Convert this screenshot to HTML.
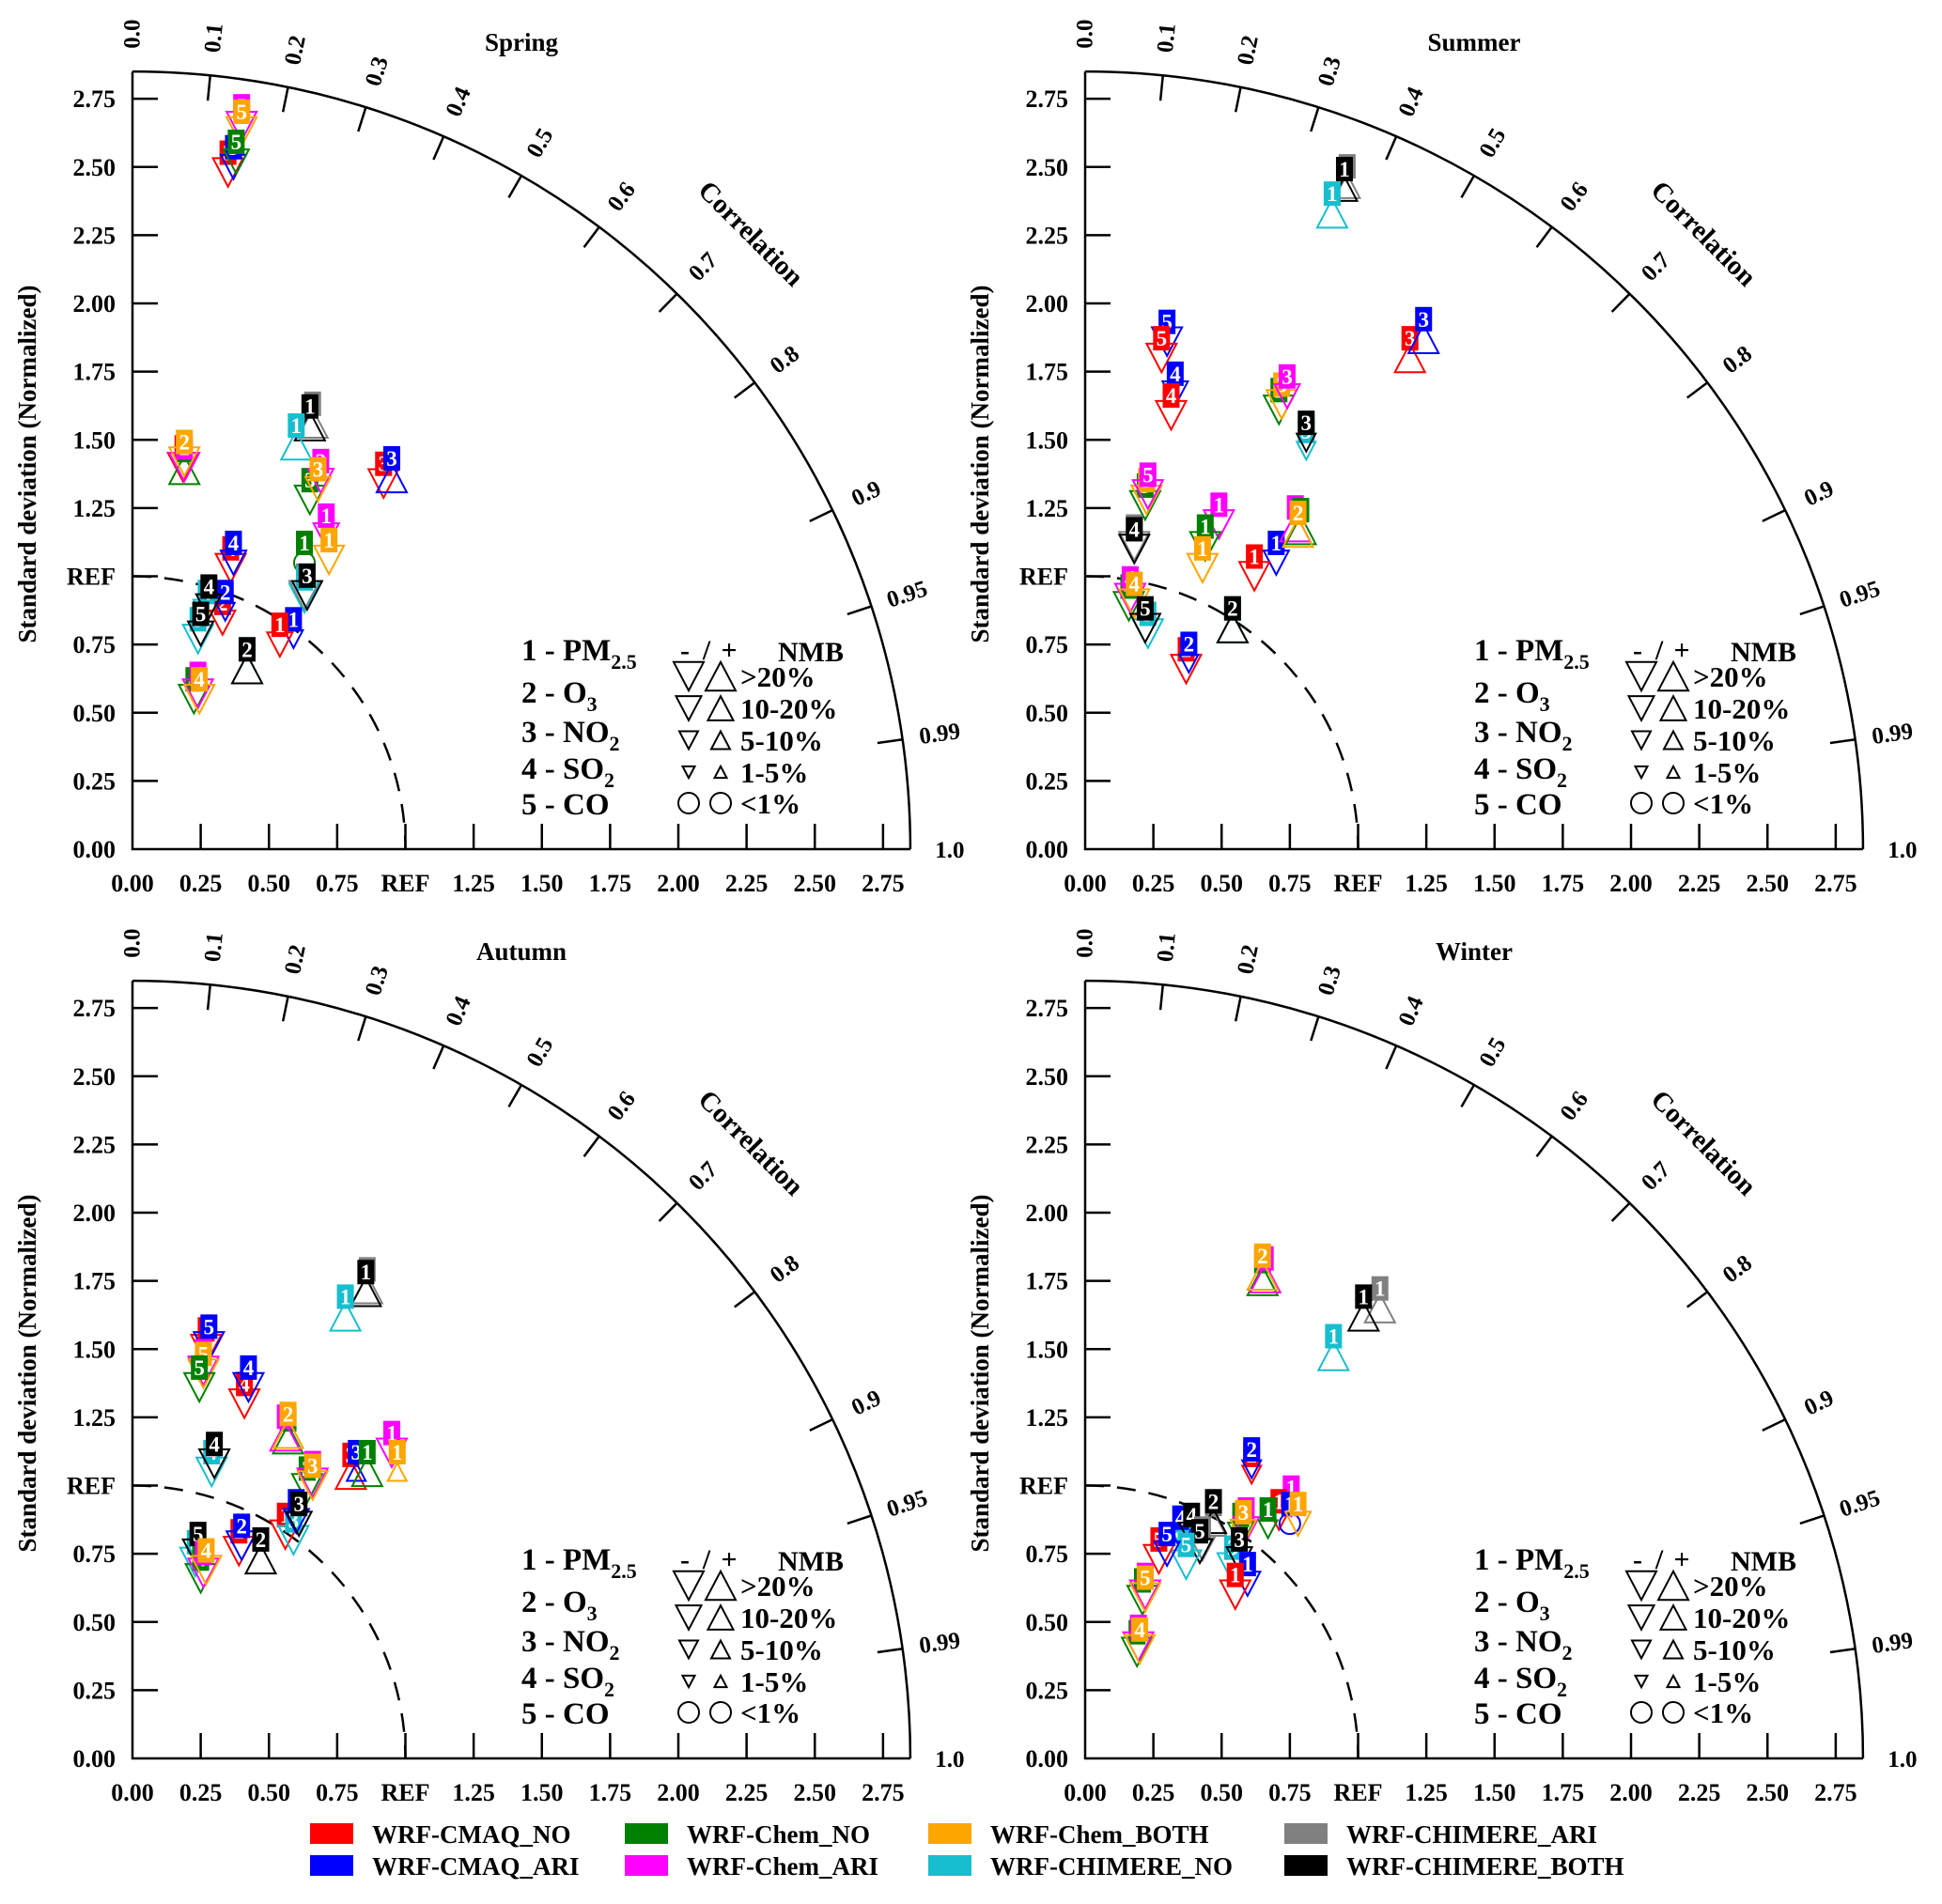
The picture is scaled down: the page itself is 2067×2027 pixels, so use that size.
<!DOCTYPE html>
<html><head><meta charset="utf-8"><style>
html,body{margin:0;padding:0;background:#fff}
svg{display:block;font-family:"Liberation Serif",serif;font-weight:bold}
</style></head><body>
<svg id="chart" width="2067" height="2027" viewBox="0 0 2067 2027" xmlns="http://www.w3.org/2000/svg"></svg>
<script>
// models: 0 CMAQ_NO,1 CMAQ_ARI,2 Chem_NO,3 Chem_ARI,4 Chem_BOTH,5 CHIMERE_NO,6 CHIMERE_ARI,7 CHIMERE_BOTH
const modelNames = ["WRF-CMAQ_NO","WRF-CMAQ_ARI","WRF-Chem_NO","WRF-Chem_ARI","WRF-Chem_BOTH","WRF-CHIMERE_NO","WRF-CHIMERE_ARI","WRF-CHIMERE_BOTH"];
const modelColors = ["#ff0000","#0000ff","#008000","#ff00ff","#ffa500","#17becf","#808080","#000000"];
const corrTicks = [0.0,0.1,0.2,0.3,0.4,0.5,0.6,0.7,0.8,0.9,0.95,0.99];
const corrLabels = ["0.0","0.1","0.2","0.3","0.4","0.5","0.6","0.7","0.8","0.9","0.95","0.99"];
const stdTicks = [0,0.25,0.5,0.75,1.0,1.25,1.5,1.75,2.0,2.25,2.5,2.75];
const stdLabels = ["0.00","0.25","0.50","0.75","REF","1.25","1.50","1.75","2.00","2.25","2.50","2.75"];
// point: [model, variable, stdX, stdY, direction(-1 down / 1 up), sizeClass 5:>20%,4:10-20,3:5-10,2:1-5,1:<1]
const springPts = [
[3,5,0.40,2.65,-1,5],[4,5,0.40,2.63,-1,5],[0,5,0.35,2.48,-1,5],[1,5,0.37,2.50,-1,4],[2,5,0.38,2.52,-1,4],
[0,2,0.185,1.40,-1,5],[2,2,0.19,1.39,1,5],[3,2,0.19,1.40,-1,5],[4,2,0.19,1.42,-1,5],
[6,1,0.66,1.56,1,5],[7,1,0.65,1.55,1,5],[5,1,0.60,1.48,1,5],
[2,3,0.65,1.28,-1,5],[3,3,0.69,1.35,-1,4],[4,3,0.68,1.32,-1,4],
[0,3,0.92,1.34,-1,5],[1,3,0.95,1.36,1,5],
[3,1,0.71,1.15,-1,4],[4,1,0.72,1.06,-1,5],[2,1,0.63,1.05,1,1],
[6,3,0.63,0.93,-1,5],[5,3,0.63,0.92,-1,5],[7,3,0.64,0.93,-1,5],
[1,1,0.59,0.77,-1,3],[0,1,0.54,0.75,-1,4],
[5,2,0.42,0.66,1,5],[7,2,0.42,0.66,1,5],
[0,4,0.36,1.03,-1,5],[1,4,0.37,1.05,-1,4],
[0,2,0.33,0.83,-1,4],[1,2,0.34,0.87,-1,3],
[5,4,0.27,0.87,-1,4],[7,4,0.28,0.89,-1,4],
[5,5,0.24,0.77,-1,5],[7,5,0.25,0.79,-1,4],
[2,4,0.225,0.55,-1,5],[3,4,0.24,0.57,-1,5],[4,4,0.245,0.55,-1,5]];
const summerPts = [
[6,1,0.96,2.43,1,4],[7,1,0.95,2.42,1,4],[5,1,0.905,2.33,1,5],
[0,3,1.19,1.80,1,5],[1,3,1.24,1.87,1,5],
[1,5,0.30,1.86,-1,5],[0,5,0.28,1.80,-1,5],
[1,4,0.33,1.67,-1,4],[0,4,0.315,1.59,-1,5],
[2,3,0.71,1.61,-1,5],[4,3,0.72,1.63,-1,5],[3,3,0.74,1.66,-1,4],
[5,3,0.81,1.46,-1,3],[7,3,0.81,1.49,-1,3],
[2,5,0.22,1.26,-1,5],[4,5,0.225,1.28,-1,5],[3,5,0.23,1.30,-1,5],
[6,4,0.18,1.11,-1,5],[7,4,0.18,1.10,-1,5],
[3,1,0.49,1.19,-1,5],[2,1,0.44,1.11,-1,5],[4,1,0.43,1.03,-1,5],
[1,1,0.70,1.05,-1,4],[0,1,0.62,1.00,-1,5],
[3,2,0.77,1.18,1,5],[2,2,0.79,1.17,1,5],[4,2,0.78,1.16,1,5],
[5,2,0.54,0.81,1,5],[7,2,0.54,0.81,1,5],
[2,4,0.16,0.89,-1,5],[3,4,0.165,0.92,-1,5],[4,4,0.18,0.90,-1,5],
[5,5,0.23,0.79,-1,5],[7,5,0.22,0.81,-1,5],
[0,2,0.37,0.66,-1,5],[1,2,0.38,0.68,-1,3]];
const autumnPts = [
[6,1,0.86,1.72,1,5],[7,1,0.855,1.71,1,5],[5,1,0.78,1.62,1,5],
[0,5,0.27,1.50,-1,5],[1,5,0.28,1.51,-1,5],[3,5,0.26,1.42,-1,5],[4,5,0.26,1.41,-1,5],[2,5,0.245,1.36,-1,5],
[0,4,0.41,1.30,-1,5],[1,4,0.425,1.36,-1,5],
[2,2,0.57,1.17,1,5],[3,2,0.56,1.18,1,5],[4,2,0.57,1.19,1,5],
[5,4,0.29,1.05,-1,5],[7,4,0.30,1.08,-1,5],
[2,3,0.64,0.99,-1,5],[3,3,0.66,1.01,-1,5],[4,3,0.66,1.00,-1,5],
[0,3,0.80,1.04,1,5],[1,3,0.82,1.05,1,3],[2,1,0.86,1.05,1,5],
[3,1,0.95,1.12,-1,5],[4,1,0.97,1.05,1,3],
[0,1,0.56,0.82,-1,5],[5,3,0.59,0.80,-1,5],[1,1,0.60,0.87,-1,4],[7,3,0.61,0.86,-1,4],
[0,2,0.39,0.76,-1,5],[1,2,0.40,0.78,-1,5],[7,2,0.47,0.73,1,5],
[5,5,0.23,0.72,-1,5],[7,5,0.24,0.75,-1,5],
[2,4,0.25,0.66,-1,5],[3,4,0.26,0.68,-1,5],[4,4,0.27,0.69,-1,5]];
const winterPts = [
[2,2,0.65,1.75,1,5],[3,2,0.66,1.76,1,5],[4,2,0.65,1.77,1,5],
[6,1,1.08,1.65,1,5],[7,1,1.02,1.62,1,5],[5,1,0.91,1.475,1,5],
[0,2,0.61,1.04,-1,3],[1,2,0.61,1.06,-1,3],
[3,1,0.755,0.92,-1,3],[0,1,0.71,0.87,-1,3],[1,1,0.75,0.86,1,1],[4,1,0.78,0.86,-1,4],[2,1,0.67,0.84,-1,3],
[2,3,0.57,0.82,-1,4],[3,3,0.59,0.84,-1,4],[4,3,0.58,0.83,-1,4],
[6,2,0.47,0.86,1,4],[7,2,0.47,0.87,1,4],
[5,4,0.36,0.80,-1,4],[1,4,0.35,0.81,-1,4],[7,4,0.39,0.82,-1,4],
[6,5,0.43,0.77,-1,4],[7,5,0.42,0.76,-1,4],[5,5,0.37,0.71,-1,5],
[0,5,0.27,0.73,-1,5],[1,5,0.30,0.75,-1,4],
[5,3,0.54,0.70,-1,5],[7,3,0.565,0.73,-1,4],
[1,1,0.595,0.64,-1,4],[0,1,0.55,0.60,-1,5],
[2,5,0.21,0.58,-1,5],[3,5,0.22,0.60,-1,5],[4,5,0.22,0.59,-1,5],
[2,4,0.19,0.39,-1,5],[3,4,0.195,0.41,-1,5],[4,4,0.20,0.40,-1,5]];

const NS="http://www.w3.org/2000/svg";
const svg=document.getElementById('chart');
const S=290.5, RMAX=2.85, R=RMAX*S;
const triW={5:32,4:27,3:20,2:13};
function el(tag,attrs,parent){const e=document.createElementNS(NS,tag);for(const k in attrs)e.setAttribute(k,attrs[k]);(parent||svg).appendChild(e);return e;}
function tri(g,cx,cy,dir,w,color){
  const h=w*0.95;let pts;
  if(dir<0)pts=[[cx-w/2,cy-h/2],[cx+w/2,cy-h/2],[cx,cy+h/2]];
  else pts=[[cx,cy-h/2],[cx-w/2,cy+h/2],[cx+w/2,cy+h/2]];
  return el('polygon',{points:pts.map(p=>p.join(',')).join(' '),fill:'none',stroke:color,'stroke-width':2},g);
}
function drawPanel(ox,oy,title,pts,key){
  const g=el('g',{});
  
  
  const px=x=>ox+x*S, py=y=>oy-y*S;
  const ax=el('path',{d:`M${ox},${py(RMAX)} L${ox},${oy} L${px(RMAX)},${oy}`,fill:'none',stroke:'#000','stroke-width':2.5},g);
  
  const arc=el('path',{d:`M${ox},${oy-R} A${R},${R} 0 0 1 ${ox+R},${oy}`,fill:'none',stroke:'#000','stroke-width':2.5},g);
  
  const ref=el('path',{d:`M${ox},${oy-S} A${S},${S} 0 0 1 ${ox+S},${oy}`,fill:'none',stroke:'#000','stroke-width':2.5,'stroke-dasharray':'20 14'},g);
  
  stdTicks.forEach((v,i)=>{
    if(v>0){
      el('line',{x1:px(v),y1:oy,x2:px(v),y2:oy-27,stroke:'#000','stroke-width':2.5},g);
      el('line',{x1:ox,y1:py(v),x2:ox+27,y2:py(v),stroke:'#000','stroke-width':2.5},g);
    }
    const t=el('text',{x:ox-18,y:py(v)+9,'text-anchor':'end','font-size':26},g);t.textContent=stdLabels[i];
    
    const t2=el('text',{x:px(v),y:oy+45,'text-anchor':'middle','font-size':26},g);t2.textContent=stdLabels[i];
    
  });
  corrTicks.forEach((r,i)=>{
    const th=Math.acos(r);const c=Math.cos(th),s=Math.sin(th);
    if(r>0)el('line',{x1:ox+(R-27)*c,y1:oy-(R-27)*s,x2:ox+R*c,y2:oy-R*s,stroke:'#000','stroke-width':2.5},g);
    const lx=ox+(R+40)*c, ly=oy-(R+40)*s, deg=th*180/Math.PI;
    const t=el('text',{x:lx,y:ly,'text-anchor':'middle','dominant-baseline':'central','font-size':25,transform:`rotate(${-deg} ${lx} ${ly})`},g);
    t.textContent=corrLabels[i];
    
  });
  const one=el('text',{x:ox+R+42,y:oy+9,'text-anchor':'middle','font-size':25},g);one.textContent='1.0';
  
  const ct=el('text',{x:ox+658,y:oy-655,'text-anchor':'middle','dominant-baseline':'central','font-size':29,transform:`rotate(45 ${ox+658} ${oy-655})`},g);ct.textContent='Correlation';
  
  const tt=el('text',{x:ox+414,y:oy-850,'text-anchor':'middle','font-size':27},g);tt.textContent=title;
  
  const yt=el('text',{x:ox-112,y:oy-410,'text-anchor':'middle','dominant-baseline':'central','font-size':27,transform:`rotate(-90 ${ox-112} ${oy-410})`},g);yt.textContent='Standard deviation (Normalized)';
  
  const vars=[["1 - PM","2.5"],["2 - O","3"],["3 - NO","2"],["4 - SO","2"],["5 - CO",""]];
  const vy=[-212,-167,-125,-86,-48];
  vars.forEach((v,i)=>{
    const t=el('text',{x:ox+414,y:oy+vy[i]+11,'font-size':33},g);
    
    t.appendChild(document.createTextNode(v[0]));
    if(v[1]){const s=el('tspan',{'font-size':22,dy:9},t);s.textContent=v[1];}
  });
  const signs=[['-',ox+588],['/',ox+611],['+',ox+635]];
  signs.forEach(sg=>{
    const h=el('text',{x:sg[1],y:oy-202,'text-anchor':'middle','font-size':30},g);h.textContent=sg[0];
    
  });
  const h2=el('text',{x:ox+687,y:oy-200,'font-size':30},g);h2.textContent='NMB';
  
  const rows=[[5,'>20%',-184],[4,'10-20%',-150],[3,'5-10%',-116],[2,'1-5%',-82],[1,'<1%',-49]];
  rows.forEach(rw=>{
    const cy=oy+rw[2];
    if(rw[0]>1){tri(g,ox+592,cy,-1,triW[rw[0]],'#000');tri(g,ox+626,cy,1,triW[rw[0]],'#000');}
    else{el('circle',{cx:ox+592,cy:cy,r:11,fill:'none',stroke:'#000','stroke-width':2},g);el('circle',{cx:ox+626,cy:cy,r:11,fill:'none',stroke:'#000','stroke-width':2},g);}
    const t=el('text',{x:ox+647,y:cy+11,'font-size':31},g);t.textContent=rw[1];
    
  });
  pts.forEach(p=>{
    const [m,v,x,y,dir,sz]=p;const cx=px(x),cy=py(y),col=modelColors[m];
    const mg=el('g',{},g);
    
    
    if(sz>1)tri(mg,cx,cy,dir,triW[sz],col);
    else el('circle',{cx:cx,cy:cy,r:11,fill:'none',stroke:col,'stroke-width':2},mg);
    el('rect',{x:cx-9,y:cy-34,width:18,height:26,fill:col},mg);
    const t=el('text',{x:cx,y:cy-13,'text-anchor':'middle','font-size':23,fill:'#fff'},mg);t.textContent=v;
  });
}
drawPanel(141,904,'Spring',springPts,'spring');
drawPanel(1155,904,'Summer',summerPts,'summer');
drawPanel(141,1872,'Autumn',autumnPts,'autumn');
drawPanel(1155,1872,'Winter',winterPts,'winter');
const lgX=[330,665,988,1367], lgY=[1952,1986];
const lg=el('g',{});


modelNames.forEach((n,i)=>{
  const col=Math.floor(i/2), row=i%2;
  const eg=el('g',{},lg);
  
  
  el('rect',{x:lgX[col],y:lgY[row]-11,width:46,height:22,fill:modelColors[i]},eg);
  const t=el('text',{x:lgX[col]+66,y:lgY[row]+10,'font-size':27},eg);t.textContent=n;
});
</script>
</body></html>
